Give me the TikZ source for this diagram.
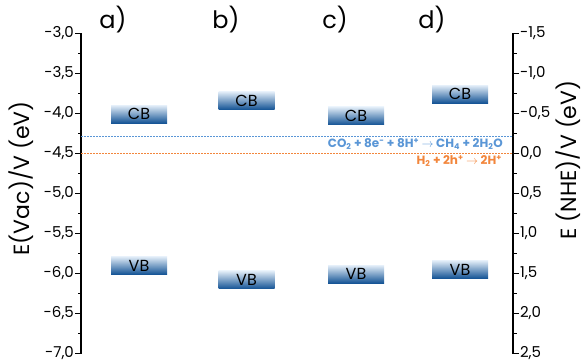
\documentclass[tikz,border=0pt]{standalone}
\usepackage{fontspec}
\setmainfont{Poppins}
\usepackage{tikz}
\usetikzlibrary{positioning}
\usepackage{xcolor}
\definecolor{bandtop}{RGB}{226,237,248}
\definecolor{bandmid}{RGB}{100,150,205}
\definecolor{bandbot}{RGB}{18,82,148}
\definecolor{redoxblue}{RGB}{90,150,214}
\definecolor{redoxorange}{RGB}{242,134,60}
\tikzset{
  band/.style={minimum width=56pt, minimum height=18pt, inner sep=0pt,
    top color=bandtop, middle color=bandmid, bottom color=bandbot,
    font=\fontsize{16}{16}\selectfont},
  panel/.style={font=\fontsize{24}{24}\selectfont},
  ticklab/.style={font=\fontsize{15}{15}\selectfont, inner sep=0.5pt},
  axlab/.style={font=\fontsize{22}{22}\selectfont, rotate=90},
  redox/.style={font=\fontsize{12}{12}\bfseries, inner sep=1pt},
  redoxline/.style={dash pattern=on 2pt off 1pt, line width=1.3pt},
  axisline/.style={line width=1.5pt, line cap=rect}
}

\begin{document}
\begin{tikzpicture}[x=1pt, y=80pt]
    \useasboundingbox (0,-7.08125) rectangle (584,-2.58125);

    % 坐标轴
    \coordinate (lTop) at (81,-3);
    \coordinate (lBot) at (81,-7);
    \coordinate (rTop) at (513,-3);
    \coordinate (rBot) at (513,-7);
    \draw[axisline] (lTop) -- (lBot);
    \draw[axisline] (rTop) -- (rBot);

    % 左侧刻度 (真空能级)
    \foreach \e/\t in {-3/{-3,0},-3.5/{-3,5},-4/{-4,0},-4.5/{-4,5},-5/{-5,0},-5.5/{-5,5},-6/{-6,0},-6.5/{-6,5},-7/{-7,0}} {
        \draw[line width=1.2pt] (81,\e) -- ++(-6,0) node[ticklab, left] {\t};
    }
    \foreach \e in {-3.25,-3.75,...,-6.75}
        \draw[line width=1.2pt] (81,\e) -- ++(-3.5,0);

    % 右侧刻度 (NHE)
    \foreach \e/\t in {-3/{-1,5},-3.5/{-1,0},-4/{-0,5},-4.5/{0,0},-5/{0,5},-5.5/{1,0},-6/{1,5},-6.5/{2,0},-7/{2,5}} {
        \draw[line width=1.2pt] (513,\e) -- ++(6,0) node[ticklab, right] {\t};
    }
    \foreach \e in {-3.25,-3.75,...,-6.75}
        \draw[line width=1.2pt] (513,\e) -- ++(3.5,0);

    % 轴标题
    \node[axlab] (yVac) at (21,-4.81) {E(Vac)/V (eV)};
    \node[axlab] (yNHE) at (568,-4.58) {E (NHE)/V (eV)};

    % 氧化还原电位
    \coordinate (co2L) at (81,-4.2875);
    \coordinate (co2R) at (513,-4.2875);
    \coordinate (h2L) at (81,-4.5);
    \coordinate (h2R) at (513,-4.5);
    \draw[redoxline, draw=redoxblue] (co2L) -- (co2R);
    \draw[redoxline, draw=redoxorange] (h2L) -- (h2R);
    \node[redox, text=redoxblue, below left=0.5pt and 9pt of co2R] (co2Lab)
        {CO\textsubscript{2} + 8e\textsuperscript{-} + 8H\textsuperscript{+} $\rightarrow$ CH\textsubscript{4} + 2H\textsubscript{2}O};
    \node[redox, text=redoxorange, below left=0.5pt and 10pt of h2R] (h2Lab)
        {H\textsubscript{2} + 2h\textsuperscript{+} $\rightarrow$ 2H\textsuperscript{+}};

    % 样品 a)-d)
    \node[panel] (pa) at (113,-2.82) {a)};
    \node[panel] (pb) at (226,-2.82) {b)};
    \node[panel] (pc) at (335,-2.82) {c)};
    \node[panel] (pd) at (432,-2.82) {d)};

    % 导带 / 价带
    \node[band] (cbA) at (139,-4.01) {CB};
    \node[band] (vbA) at (139,-5.90) {VB};
    \node[band] (cbB) at (246.5,-3.84) {CB};
    \node[band] (vbB) at (246.5,-6.08) {VB};
    \node[band] (cbC) at (356,-4.03) {CB};
    \node[band] (vbC) at (356,-6.01) {VB};
    \node[band] (cbD) at (460,-3.76) {CB};
    \node[band] (vbD) at (460,-5.95) {VB};
\end{tikzpicture}
\end{document}
